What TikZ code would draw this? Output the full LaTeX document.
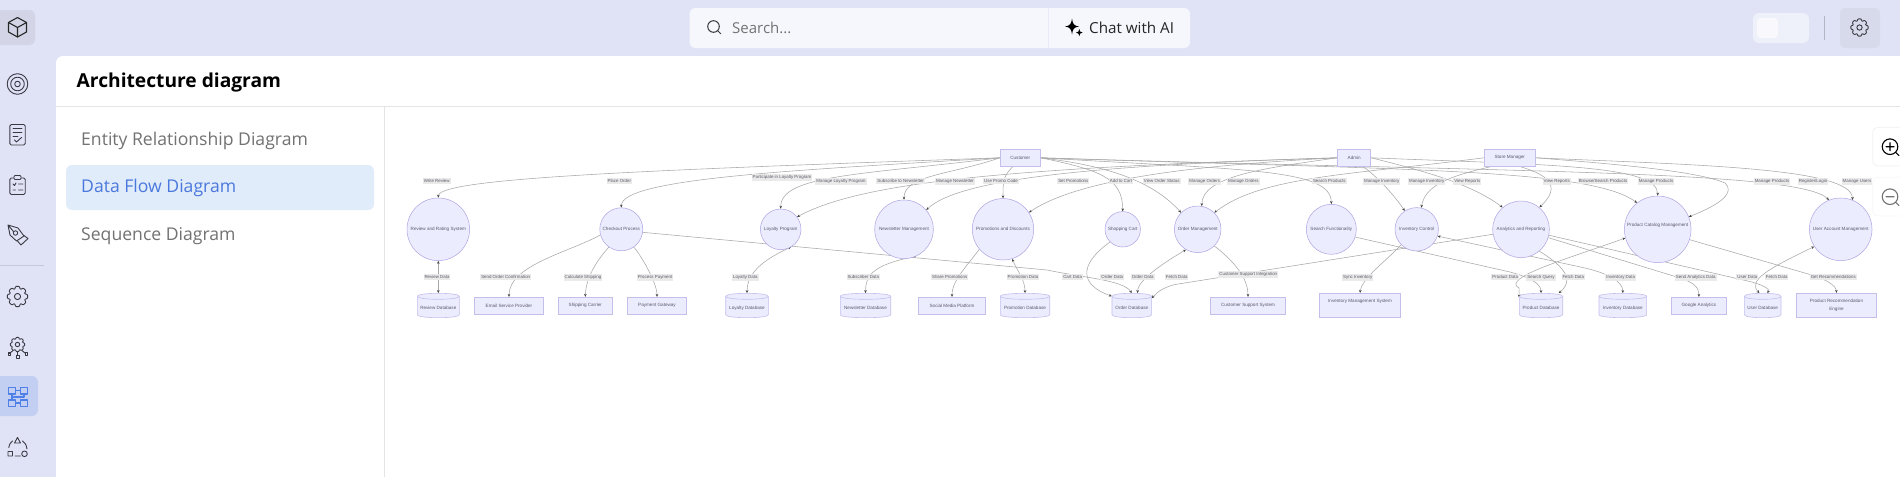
\documentclass[tikz,border=0pt]{standalone}
\usepackage{fontspec}
\setmainfont{Liberation Sans}
\newfontfamily\uifont{Open Sans}
\usetikzlibrary{arrows.meta,shapes.geometric}
\pgfdeclarelayer{base}\pgfdeclarelayer{edges}
\pgfsetlayers{base,edges,main}
\definecolor{pagebg}{HTML}{E0E3F5}
\definecolor{nodefill}{HTML}{ECECFF}
\definecolor{nodeline}{HTML}{AEA3E0}
\definecolor{boxline}{HTML}{C4BEEA}
\definecolor{edgeline}{HTML}{A8A8A8}
\definecolor{tipc}{HTML}{444444}
\definecolor{lblbg}{HTML}{EAEAEA}
\definecolor{nodetxt}{HTML}{5A5A68}
\definecolor{menugrey}{HTML}{727272}
\definecolor{activeblue}{HTML}{4B78DC}
\definecolor{activebg}{HTML}{E1ECFB}
\definecolor{rulegrey}{HTML}{E4E4E4}
\definecolor{iconc}{HTML}{3A3A44}
\definecolor{flowblue}{HTML}{4F80E8}
\tikzset{
  x=1pt,y=-1pt,
  nodetext/.style={font=\fontsize{4.6}{8}\selectfont,text=nodetxt,inner sep=0pt,align=center},
  proc/.style={nodetext,circle,draw=nodeline,fill=nodefill,line width=0.5pt},
  ext/.style={nodetext,rectangle,draw=boxline,fill=nodefill,line width=0.8pt},
  dbshape/.style={nodetext,rectangle},
  flow/.style={draw=edgeline,line width=0.55pt,-{Stealth[length=3pt,width=2.6pt,color=tipc]}},
  flowboth/.style={draw=edgeline,line width=0.55pt,{Stealth[length=3pt,width=2.6pt,color=tipc]}-{Stealth[length=3pt,width=2.6pt,color=tipc]}},
  elabel/.style={font=\fontsize{4.4}{5}\selectfont,text=nodetxt,fill=lblbg,inner xsep=1pt,inner ysep=1.3pt},
  menu/.style={anchor=west,inner sep=0pt},
  icon/.style={draw=iconc,line width=0.9pt,line join=round,line cap=round},
  flowicon/.style={draw=flowblue,line width=1.1pt,line join=round},
}
\newcommand\dbnode[4]{%
  \path[draw=boxline,fill=nodefill,line width=0.6pt]
    ({#2-#3},296.3) -- ({#2-#3},314.7)
    .. controls ({#2-#3},318.7) and ({#2+#3},318.7) .. ({#2+#3},314.7)
    -- ({#2+#3},296.3)
    .. controls ({#2+#3},292.3) and ({#2-#3},292.3) .. ({#2-#3},296.3) -- cycle;
  \path[draw=boxline,line width=0.6pt]
    ({#2-#3},296.3) .. controls ({#2-#3},300.3) and ({#2+#3},300.3) .. ({#2+#3},296.3);
  \node[dbshape,minimum width={2*#3 pt},minimum height=24.4pt] (#1) at (#2,305.5) {\raisebox{-3.9pt}[0pt][0pt]{#4}};
}
\newcommand\gearicon[4]{% x y r style
  \draw[#4,rounded corners=0.7pt,shift={(#1,#2)}]
    ({(#3)*0.74*cos(-22.5)},{(#3)*0.74*sin(-22.5)})
    \foreach \a in {0,45,...,315}{
      -- ({(#3)*cos(\a-10)},{(#3)*sin(\a-10)})
      -- ({(#3)*cos(\a+10)},{(#3)*sin(\a+10)})
      -- ({(#3)*0.74*cos(\a+22.5)},{(#3)*0.74*sin(\a+22.5)})
    } -- cycle;
  \draw[#4] (#1,#2) circle[radius={(#3)*0.3}];
}
\begin{document}
\begin{tikzpicture}
\useasboundingbox (0,0) rectangle (1900,477);
\begin{pgfonlayer}{base}
  \fill[pagebg] (0,0) rectangle (1900,477);
  % white panel
  \fill[white,rounded corners=7pt] (56,56) rectangle (1920,500);
  \draw[rulegrey,line width=0.8pt] (56,106.3) -- (1900,106.3);
  \draw[rulegrey,line width=0.8pt] (384.5,106.3) -- (384.5,477);
  % top bar
  \fill[fill=white!70!pagebg,rounded corners=6pt] (689.5,8) rectangle (1190,48);
  \draw[pagebg!70!white,line width=0.6pt] (1048,8) -- (1048,48);
  \fill[fill=white!45!pagebg,rounded corners=6pt] (1753,13) rectangle (1809,43);
  \fill[fill=white!80!pagebg,rounded corners=4pt] (1757,18) rectangle (1778,38);
  \draw[black!20!pagebg,line width=0.7pt] (1824.5,16) -- (1824.5,40);
  \fill[fill=black!4!pagebg,rounded corners=5pt] (1840,8) rectangle (1880,48);
  % sidebar tiles
  \fill[fill=black!6!pagebg,rounded corners=5pt] (-10,10) rectangle (35,45);
  \fill[fill=flowblue!20!pagebg,rounded corners=6pt] (-10,376) rectangle (38,416);
  \draw[black!12!pagebg,line width=0.7pt] (0,265.5) -- (44,265.5);
  % selected menu row
  \fill[activebg,rounded corners=6pt] (66,165) rectangle (374,210);
\end{pgfonlayer}

% page texts
\node[menu,font=\uifont\bfseries\fontsize{19.2}{22}\selectfont,text=black] (title) at (76.5,83) {Architecture diagram};
\node[menu,font=\uifont\fontsize{17.6}{22}\selectfont,text=menugrey] (m1) at (81,141) {Entity Relationship Diagram};
\node[menu,font=\uifont\fontsize{17.6}{22}\selectfont,text=activeblue] (m2) at (81,188) {Data Flow Diagram};
\node[menu,font=\uifont\fontsize{17.6}{22}\selectfont,text=menugrey] (m3) at (81,236.5) {Sequence Diagram};
\node[menu,font=\uifont\fontsize{15}{18}\selectfont,text=black!55] (search) at (732,28) {Search...};
\node[menu,font=\uifont\fontsize{15.2}{18}\selectfont,text=black!85] (chat) at (1089,27.5) {Chat with AI};

% top-bar icons
\draw[icon,line width=1pt] (713.5,26.5) circle[radius=5.8];
\draw[icon,line width=1pt] (717.7,30.7) -- (720.8,33.8);
\begin{scope}[shift={(26.5,0)}]
\fill[black] (1045.5,18.5) .. controls (1046.2,24) and (1047.5,25.8) .. (1052.5,26.5) .. controls (1047.5,27.2) and (1046.2,29) .. (1045.5,34.5) .. controls (1044.8,29) and (1043.5,27.2) .. (1038.5,26.5) .. controls (1043.5,25.8) and (1044.8,24) .. (1045.5,18.5) -- cycle;
\fill[black] (1052.8,29) .. controls (1053.1,31.6) and (1053.7,32.2) .. (1056.2,32.6) .. controls (1053.7,33) and (1053.1,33.6) .. (1052.8,36.2) .. controls (1052.5,33.6) and (1051.9,33) .. (1049.4,32.6) .. controls (1051.9,32.2) and (1052.5,31.6) .. (1052.8,29) -- cycle;
\end{scope}
\gearicon{1859.5}{27.5}{8.8}{icon}

% sidebar icons
\draw[icon,line width=1.1pt,draw=black!85] (17.5,17.5) -- (26.5,22.5) -- (26.5,32) -- (17.5,37) -- (8.5,32) -- (8.5,22.5) -- cycle;
\draw[icon,line width=1.1pt,draw=black!85] (8.5,22.5) -- (17.5,27.5) -- (26.5,22.5) (17.5,27.5) -- (17.5,37);
\draw[icon] (17.5,84) circle[radius=10.3] (17.5,84) circle[radius=6.8] (17.5,84) circle[radius=2.8];
\draw[icon,rounded corners=1.5pt] (9.8,124.5) rectangle (25.2,145);
\draw[icon] (13,128.5) -- (22,128.5) (13,132.5) -- (22,132.5) (13,136.5) -- (18,136.5) (14.5,140) -- (16.5,142) -- (21.5,137.5);
\draw[icon,rounded corners=1.5pt] (9.8,178) rectangle (25.2,194.5);
\draw[icon,fill=pagebg,rounded corners=1pt] (14,175.5) rectangle (21,179.5);
\draw[icon] (13,184) -- (14.5,185.5) -- (16,183) (18.5,184) -- (23,184) (13,190) -- (15.5,190) (18.5,190) -- (23,190);
\draw[icon] (8,225) -- (18,228) -- (24,236) -- (16.5,241) -- (10,235) -- cycle (8,225) -- (13.5,231.5);
\draw[icon] (15.5,233) circle[radius=2.2];
\draw[icon] (24,235.5) -- (28,238.5) -- (21,245) -- (17.5,241);
\gearicon{17.5}{296.5}{10.3}{icon}
\gearicon{17.5}{344.5}{7.3}{icon}
\draw[icon] (17.5,352) -- (17.5,355) (13,350.5) -- (9.5,353.5) (22,350.5) -- (25.5,353.5);
\draw[icon] (8,352.5) rectangle (10.5,355) (16,355) rectangle (19,358) (25,352.5) rectangle (27.5,355);
\draw[flowicon] (8.5,387.5) rectangle (15.5,394) (20.5,387.5) rectangle (27.5,394) (8.5,400) rectangle (15.5,406.5) (20.5,400) rectangle (27.5,406.5);
\draw[flowicon] (15.5,390.5) -- (20.5,390.5) (15.5,403) -- (20.5,403) (12,394) -- (12,400) (12,397) -- (24,397) -- (24,394);
\draw[icon] (14.5,443) -- (17.5,437.5) -- (20.5,443) -- cycle;
\draw[icon] (8,451.5) rectangle (12.5,456) (24.5,453.8) circle[radius=2.8];
\draw[icon] (8.8,447.5) .. controls (9.5,444) and (10.5,442.5) .. (12.5,441) (22.5,441) .. controls (25,442.5) and (26.5,445) .. (27,449) (15,456) -- (20.5,456);

% zoom buttons
\draw[fill=white,draw=black!6,line width=0.7pt,rounded corners=5pt] (1872.7,127.3) rectangle (1920,166);
\draw[fill=white,draw=black!3,line width=0.7pt,rounded corners=5pt] (1872.7,177.3) rectangle (1920,216);
\draw[icon,draw=black,line width=1.1pt] (1890,146.7) circle[radius=7.8] (1886,146.7) -- (1894,146.7) (1890,142.7) -- (1890,150.7) (1895.6,152.3) -- (1899,155.6);
\draw[icon,draw=black!55,line width=1.1pt] (1890,196.7) circle[radius=7.8] (1886,196.7) -- (1894,196.7) (1895.6,202.3) -- (1899,205.6);

% actors
\node[ext,minimum width=40pt,minimum height=17pt] (customer) at (1020.3,157.8) {Customer};
\node[ext,minimum width=33pt,minimum height=17pt] (admin) at (1354.2,157.8) {Admin};
\node[ext,minimum width=51pt,minimum height=17pt] (manager) at (1509.8,157.8) {Store Manager};

% processes
\node[proc,minimum size=62.6pt] (review) at (438.3,229.3) {Review and Rating System};
\node[proc,minimum size=43pt] (checkout) at (621.3,229.3) {Checkout Process};
\node[proc,minimum size=40.6pt] (loyalty) at (780.7,229.3) {Loyalty Program};
\node[proc,minimum size=58.6pt] (newsletter) at (904,229.3) {Newsletter Management};
\node[proc,minimum size=61.4pt] (promo) at (1003,229.3) {Promotions and Discounts};
\node[proc,minimum size=35.4pt] (cart) at (1122.7,229.3) {Shopping Cart};
\node[proc,minimum size=46.6pt] (order) at (1197.7,229.3) {Order Management};
\node[proc,minimum size=50pt] (searchf) at (1331.3,229.3) {Search Functionality};
\node[proc,minimum size=43.4pt] (inventory) at (1416.7,229.3) {Inventory Control};
\node[proc,minimum size=56.6pt] (analytics) at (1521,229.3) {Analytics and Reporting};
\node[proc,minimum size=66.6pt] (catalog) at (1657.7,229.3) {\raisebox{2.9pt}[0pt][0pt]{Product Catalog Management}};
\node[proc,minimum size=62.6pt] (account) at (1840.7,229.3) {User Account Management};

% external systems
\node[ext,minimum width=68.6pt,minimum height=16.7pt] (email) at (509,305.65) {Email Service Provider};
\node[ext,minimum width=54pt,minimum height=16.7pt] (ship) at (585.3,305.65) {Shipping Carrier};
\node[ext,minimum width=58.6pt,minimum height=16.7pt] (pay) at (657,305.65) {Payment Gateway};
\node[ext,minimum width=67.4pt,minimum height=16.7pt] (social) at (952,305.65) {Social Media Platform};
\node[ext,minimum width=75.4pt,minimum height=16.7pt] (support) at (1248,305.65) {Customer Support System};
\node[ext,minimum width=55.7pt,minimum height=16.7pt] (google) at (1698.85,305.65) {Google Analytics};
\node[ext,minimum width=80.6pt,minimum height=24.4pt] (invmgmt) at (1360,305.5) {\raisebox{3.1pt}[0pt][0pt]{Inventory Management System}};
\node[ext,minimum width=80.4pt,minimum height=24.4pt] (recengine) at (1836.5,305.5) {Product Recommendation\\Engine};

% databases
\dbnode{reviewdb}{438.3}{21}{Review Database}
\dbnode{loyaltydb}{747}{21.3}{Loyalty Database}
\dbnode{newsdb}{865.5}{25.2}{Newsletter Database}
\dbnode{promodb}{1025}{24.7}{Promotion Database}
\dbnode{orderdb}{1131.8}{19.8}{Order Database}
\dbnode{productdb}{1541}{21.7}{Product Database}
\dbnode{inventorydb}{1622.8}{23.8}{Inventory Database}
\dbnode{userdb}{1762.7}{18.3}{User Database}

% connectors
\begin{pgfonlayer}{edges}
  % customer
  \draw[flow] (customer.west) .. controls (650,170) and (438.3,178) .. (review.north);
  \draw[flow] (customer.west) .. controls (800,170) and (621.3,178) .. (checkout.north);
  \draw[flow] (customer.west) .. controls (860,175) and (780.7,175) .. (loyalty.north);
  \draw[flow] (customer.west) .. controls (950,175) and (904,175) .. (newsletter.north);
  \draw[flow] (customer.-130) .. controls (1003,176) and (1003,182) .. (promo.north);
  \draw[flow] (customer.east) .. controls (1100,170) and (1122.7,178) .. (cart.north);
  \draw[flow] (customer.east) .. controls (1100,165) and (1150,178) .. (order.135);
  \draw[flow] (customer.east) .. controls (1240,170) and (1331.3,168) .. (searchf.north);
  \draw[flow] (customer.east) .. controls (1400,170) and (1590,168) .. (catalog.128);
  \draw[flow] (customer.east) .. controls (1500,172) and (1800,170) .. (account.112);
  % admin
  \draw[flow] (admin.west) .. controls (1000,168) and (860,183) .. (loyalty.37);
  \draw[flow] (admin.west) .. controls (1100,165) and (960,178) .. (newsletter.41);
  \draw[flow] (admin.west) .. controls (1200,165) and (1080,178) .. (promo.33);
  \draw[flow] (admin.west) .. controls (1265,168) and (1202,176) .. (order.80);
  \draw[flow] (admin.-45) .. controls (1375,175) and (1392,192) .. (inventory.123);
  \draw[flow] (admin.east) .. controls (1420,170) and (1470,183) .. (analytics.130);
  \draw[flow] (admin.east) .. controls (1550,165) and (1657.7,165) .. (catalog.north);
  % store manager
  \draw[flow] (manager.west) .. controls (1350,175) and (1262,176) .. (order.45);
  \draw[flow] (manager.-155) .. controls (1450,176) and (1425,185) .. (inventory.78);
  \draw[flow] (manager.-40) .. controls (1552,176) and (1560,188) .. (analytics.50);
  \draw[flow] (manager.east) .. controls (1600,163) and (1695,170) .. (1725,183) .. controls (1735,192) and (1722,204) .. (catalog.22);
  \draw[flow] (manager.east) .. controls (1700,165) and (1852,168) .. (account.68);
  % stores and externals
  \draw[flowboth] (review.south) -- (reviewdb.north);
  \draw[flowboth] (loyalty.-60) .. controls (758,262) and (747,276) .. (loyaltydb.north);
  \draw[flowboth] (newsletter.-66) .. controls (872,265) and (865.5,276) .. (newsdb.north);
  \draw[flowboth] (promo.-73) .. controls (1018,272) and (1025,280) .. (promodb.north);
  \draw[flowboth] (order.-120) .. controls (1165,262) and (1137.5,280) .. (orderdb.65);
  \draw[flow] (checkout.-165) .. controls (570,252) and (509,265) .. (email.north);
  \draw[flow] (checkout.-125) .. controls (600,257) and (586,275) .. (ship.north);
  \draw[flow] (checkout.-55) .. controls (640,254) and (657,282) .. (pay.north);
  \draw[flow] (checkout.-8) -- (1047,270) .. controls (1085,278) and (1123,280) .. (orderdb.north);
  \draw[flow] (cart.-135) .. controls (1078,265) and (1080,285) .. (orderdb.155);
  \draw[flow] (promo.-140) .. controls (968,265) and (952,280) .. (social.north);
  \draw[flow] (order.-45) .. controls (1240,266) and (1248,282) .. (support.north);
  \draw[flow] (analytics.-170) -- (1175,284.5) .. controls (1165,287) and (1158,291) .. (orderdb.20);
  \draw[flow] (inventory.-135) .. controls (1385,262) and (1362,278) .. (invmgmt.north);
  \draw[flow] (searchf.-18) -- (1510,272) .. controls (1525,276) and (1541,282) .. (productdb.north);
  \draw[flowboth] (catalog.-165) .. controls (1570,258) and (1500,278) .. (1519,288) -- (productdb.160);
  \draw[flow] (analytics.-50) .. controls (1570,270) and (1572,282) .. (productdb.35);
  \draw[flowboth] (inventory.-18) -- (1585,268) .. controls (1610,274) and (1622.8,282) .. (inventorydb.north);
  \draw[flow] (analytics.-17) -- (1680,278) .. controls (1695,283) and (1699,288) .. (google.north);
  \draw[flow] (analytics.-12) -- (1752,282) .. controls (1765,286) and (1770,289) .. (userdb.70);
  \draw[flowboth] (account.-147) .. controls (1770,268) and (1747,280) .. (userdb.105);
  \draw[flow] (catalog.-18) -- (1810,274.5) .. controls (1825,279) and (1836,285) .. (recengine.north);
\end{pgfonlayer}

% connector labels
\foreach \lx/\ly/\lab [count=\i] in {
  436.7/181.3/Write Review, 619.3/181.3/Place Order, 782/177.7/Participate in Loyalty Program,
  841/181.3/Manage Loyalty Program, 900.7/181.3/Subscribe to Newsletter, 955/181.3/Manage Newsletter,
  1001/181.3/Use Promo Code, 1073.3/181.3/Set Promotions, 1121/181.3/Add to Cart,
  1161.7/181.3/View Order Status, 1204.7/181.3/Manage Orders, 1243.3/181.3/Manage Orders,
  1329.3/181.3/Search Products, 1381.7/181.3/Manage Inventory, 1426.7/181.3/Manage Inventory,
  1467.3/181.3/View Reports, 1556.7/181.3/View Reports, 1603/181.3/{Browse/Search Products},
  1656/181.3/Manage Products, 1772/181.3/Manage Products, 1813/181.3/{Register/Login},
  1857/181.3/Manage Users,
  437/277.3/Review Data, 505.7/277.3/Send Order Confirmation, 583/277.3/Calculate Shipping,
  655/277.3/Process Payment, 745.3/277.3/Loyalty Data, 863.3/277.3/Subscriber Data,
  949.7/277.3/Share Promotions, 1023/277.3/Promotion Data, 1072.7/277.3/Cart Data,
  1112.3/277.3/Order Data, 1142.7/277.3/Order Data, 1176.7/277.3/Fetch Data,
  1248.3/274.3/Customer Support Integration, 1357.7/277.3/Sync Inventory, 1505.3/277.3/Product Data,
  1541/277.3/Search Query, 1573.3/277.3/Fetch Data, 1620.7/277.3/Inventory Data,
  1695.7/277.3/Send Analytics Data, 1747.3/277.3/User Data, 1776.7/277.3/Fetch Data,
  1833.3/277.3/Get Recommendations}
  { \node[elabel] (lbl\i) at (\lx,\ly) {\lab}; }
\end{tikzpicture}
\end{document}
